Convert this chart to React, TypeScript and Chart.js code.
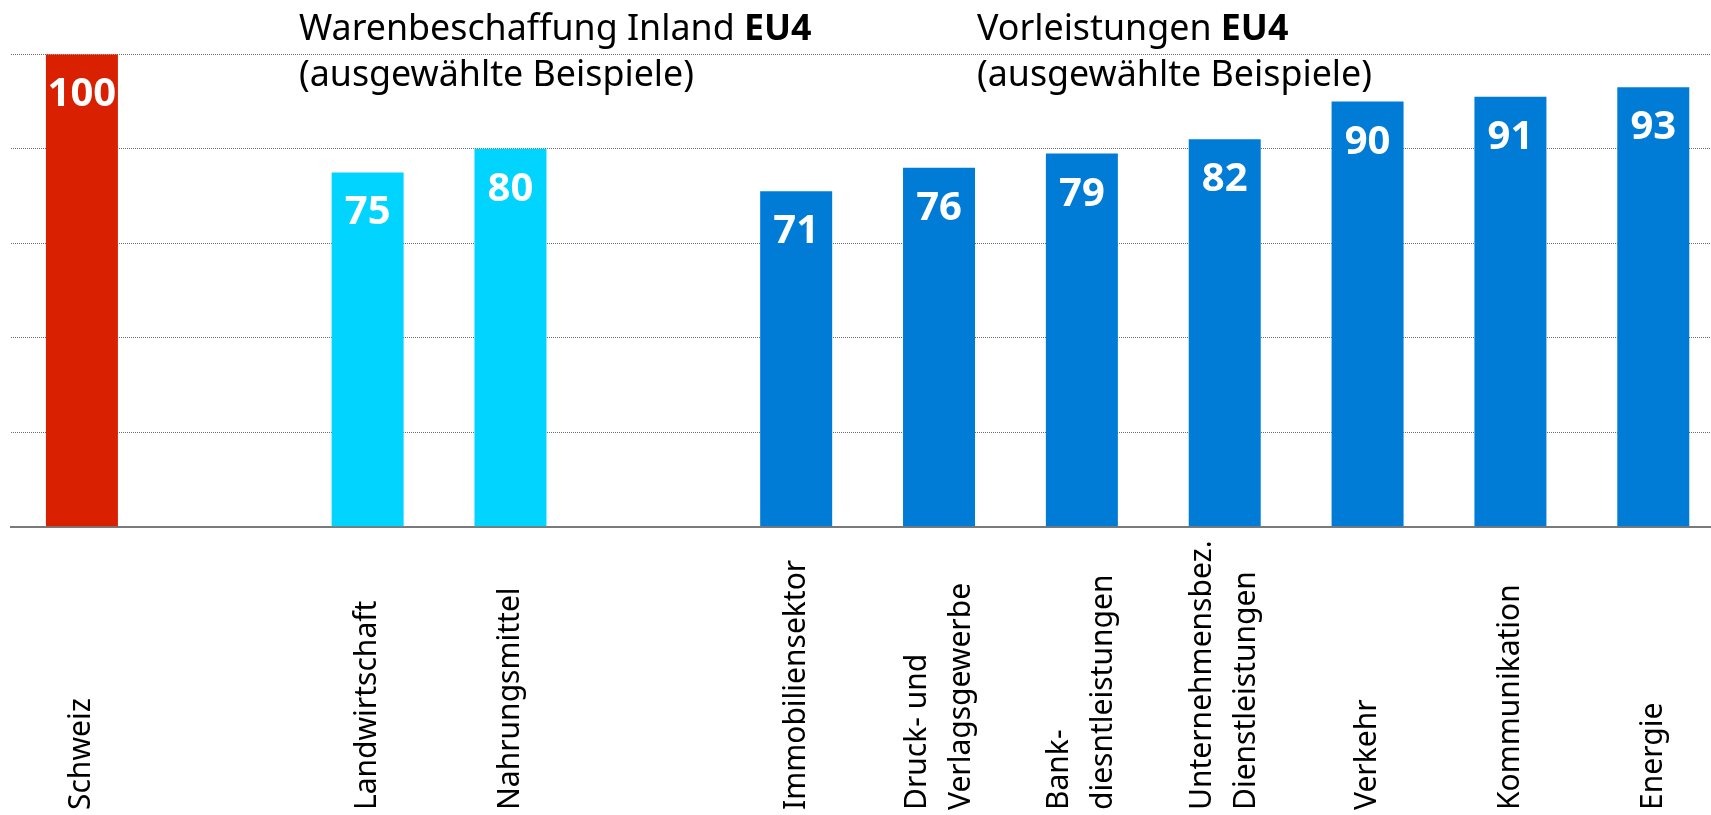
import React, { useEffect, useRef } from 'react';
import { Chart, registerables } from 'chart.js';

Chart.register(...registerables);

const categories: (string | string[])[] = [
  'Schweiz',
  '',
  'Landwirtschaft',
  'Nahrungsmittel',
  '',
  'Immobiliensektor',
  ['Druck- und', 'Verlagsgewerbe'],
  ['Bank-', 'diesntleistungen'],
  ['Unternehmensbez.', 'Dienstleistungen'],
  'Verkehr',
  'Kommunikation',
  'Energie',
];

const values: (number | null)[] = [100, null, 75, 80, null, 71, 76, 79, 82, 90, 91, 93];

const RED = '#D92000';
const CYAN = '#00D4FF';
const BLUE = '#007CD7';
const barColors = [RED, RED, CYAN, CYAN, BLUE, BLUE, BLUE, BLUE, BLUE, BLUE, BLUE, BLUE];

const yMin = 0;
const yMax = 100;
const yStep = 20;

const titleGoods = { normal: 'Warenbeschaffung Inland ', bold: 'EU4', second: '(ausgewählte Beispiele)' };
const titleInputs = { normal: 'Vorleistungen ', bold: 'EU4', second: '(ausgewählte Beispiele)' };

const FONT = '"Noto Sans", "Open Sans", "DejaVu Sans", sans-serif';

const textPlugin = {
  id: 'textPlugin',
  afterDatasetsDraw(chart: any) {
    const ctx: CanvasRenderingContext2D = chart.ctx;
    const xs = chart.scales.x;
    const meta = chart.getDatasetMeta(0);

    // value labels inside bars
    ctx.save();
    ctx.fillStyle = '#ffffff';
    ctx.font = `bold 40px ${FONT}`;
    ctx.textAlign = 'center';
    ctx.textBaseline = 'alphabetic';
    meta.data.forEach((bar: any, i: number) => {
      const v = values[i];
      if (v == null) return;
      ctx.fillText(String(v), bar.x, bar.y + 52);
    });
    ctx.restore();

    // rotated category labels, bottom aligned
    ctx.save();
    ctx.fillStyle = '#000000';
    ctx.font = `30px ${FONT}`;
    ctx.textAlign = 'left';
    ctx.textBaseline = 'middle';
    categories.forEach((c, i) => {
      const lines = Array.isArray(c) ? c : [c];
      if (!lines[0]) return;
      const x = xs.getPixelForValue(i);
      ctx.save();
      ctx.translate(x, 810);
      ctx.rotate(-Math.PI / 2);
      lines.forEach((l, j) => {
        ctx.fillText(l, 0, (j - (lines.length - 1) / 2) * 44);
      });
      ctx.restore();
    });
    ctx.restore();

    // group titles
    const drawTitle = (t: { normal: string; bold: string; second: string }, x: number) => {
      ctx.save();
      ctx.fillStyle = '#000000';
      ctx.textAlign = 'left';
      ctx.textBaseline = 'alphabetic';
      ctx.font = `35.8px ${FONT}`;
      ctx.fillText(t.normal, x, 39.5);
      const w = ctx.measureText(t.normal).width;
      ctx.font = `bold 35.8px ${FONT}`;
      ctx.fillText(t.bold, x + w, 39.5);
      ctx.font = `35.8px ${FONT}`;
      ctx.fillText(t.second, x, 86);
      ctx.restore();
    };
    drawTitle(titleGoods, 299);
    drawTitle(titleInputs, 977);
  },
};

export default function App() {
  const ref = useRef<HTMLCanvasElement | null>(null);

  useEffect(() => {
    if (!ref.current) return;
    const chart = new Chart(ref.current, {
      type: 'bar',
      data: {
        labels: categories as any,
        datasets: [
          {
            data: values as any,
            backgroundColor: barColors,
            borderWidth: 0,
            categoryPercentage: 1,
            barPercentage: 0.504,
          },
        ],
      },
      options: {
        responsive: false,
        animation: false,
        devicePixelRatio: 1,
        layout: { padding: { left: 10.5, top: 54.3, right: 15.3, bottom: 288.3 } },
        plugins: {
          legend: { display: false },
          tooltip: { enabled: false },
          title: { display: false },
        },
        scales: {
          x: {
            ticks: { display: false },
            grid: { display: false, drawTicks: false },
            border: { display: true, color: '#7a7a7a', width: 2 },
          },
          y: {
            min: yMin,
            max: yMax,
            ticks: { display: false, stepSize: yStep },
            grid: {
              drawTicks: false,
              color: (c: any) => (c.tick && c.tick.value === 0 ? 'rgba(0,0,0,0)' : 'rgba(60,60,60,0.75)'),
              lineWidth: 1,
            },
            border: { display: false, dash: [1, 1] },
          },
        },
      },
      plugins: [textPlugin],
    });
    return () => chart.destroy();
  }, []);

  return (
    <div
      style={{
        position: 'fixed',
        left: 0,
        top: 0,
        width: 1711,
        height: 815,
        overflow: 'hidden',
        background: '#ffffff',
      }}
    >
      <canvas ref={ref} width={1740} height={815} style={{ display: 'block' }} />
    </div>
  );
}
